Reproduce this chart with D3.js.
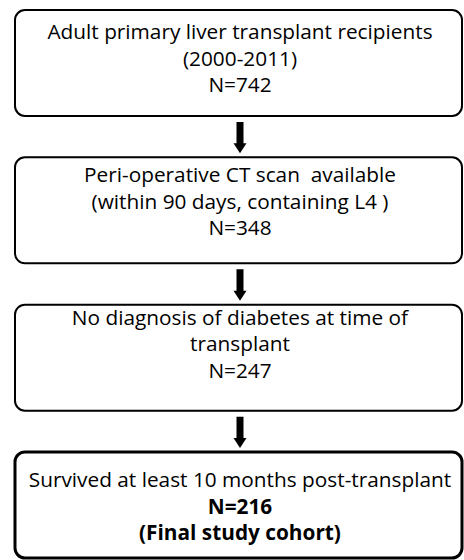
<!DOCTYPE html>
<html>
<head>
<meta charset="utf-8">
<script src="https://cdn.jsdelivr.net/npm/d3@7"></script>
<style>
  body { margin: 0; background: #fff; }
  text { font-family: "Open Sans", sans-serif; fill: #000; white-space: pre; }
</style>
</head>
<body>
<div id="chart"></div>
<script>
// flow steps, top to bottom
const stepTitles = [
  ["Adult primary liver transplant recipients", "(2000-2011)"],
  ["Peri-operative CT scan  available", "(within 90 days, containing L4 )"],
  ["No diagnosis of diabetes at time of", "transplant"],
  ["Survived at least 10 months post-transplant"]
];
const stepCounts = [742, 348, 247, 216];
const stepNotes = ["", "", "", "(Final study cohort)"];

const width = 464;
const height = 560;

const svg = d3.select('#chart')
  .append('svg')
    .attr('width', width)
    .attr('height', height);

const boxLeft = 15;
const boxRight = 462;
const boxHeight = 106;
const lineGap = 26.5;
const cx = 240;
// baseline of first text line, measured from box top
const firstLine = [29, 25, 20, 35];

const yTop = d3.scaleLinear()
  .domain([0, stepCounts.length - 1])
  .range([10, 452]);

const steps = stepCounts.map((n, i) => {
  const lines = stepTitles[i].map(t => ({ text: t, bold: false }));
  lines.push({ text: 'N=' + n, bold: i === stepCounts.length - 1 });
  if (stepNotes[i]) lines.push({ text: stepNotes[i], bold: true });
  return { i, lines, last: i === stepCounts.length - 1 };
});

const groups = svg.selectAll('g.step')
  .data(steps)
  .join('g')
    .attr('class', 'step')
    .attr('transform', d => `translate(0,${yTop(d.i)})`);

groups.append('rect')
    .attr('x', boxLeft)
    .attr('y', 0)
    .attr('width', boxRight - boxLeft)
    .attr('height', boxHeight)
    .attr('rx', 10)
    .attr('fill', '#fff')
    .attr('stroke', '#000')
    .attr('stroke-width', d => d.last ? 3 : 2);

groups.selectAll('text')
  .data(d => d.lines.map((l, k) => ({ ...l, k, box: d.i })))
  .join('text')
    .attr('x', cx)
    .attr('y', d => firstLine[d.box] + d.k * lineGap)
    .attr('text-anchor', 'middle')
    .attr('font-size', 20.8)
    .attr('font-weight', d => d.bold ? 'bold' : 'normal')
    .text(d => d.text);

// arrows between boxes
const shaftW = 7, headW = 13, headH = 10;
const arrowPath = i => {
  const y0 = yTop(i) + boxHeight + 6;
  const y2 = yTop(i + 1) - 4;
  const y1 = y2 - headH;
  return `M${cx - shaftW / 2},${y0}H${cx + shaftW / 2}V${y1}H${cx + headW / 2}L${cx},${y2}L${cx - headW / 2},${y1}H${cx - shaftW / 2}Z`;
};

svg.selectAll('path.arrow')
  .data(d3.range(stepCounts.length - 1))
  .join('path')
    .attr('class', 'arrow')
    .attr('d', arrowPath)
    .attr('fill', '#000');
</script>
</body>
</html>
